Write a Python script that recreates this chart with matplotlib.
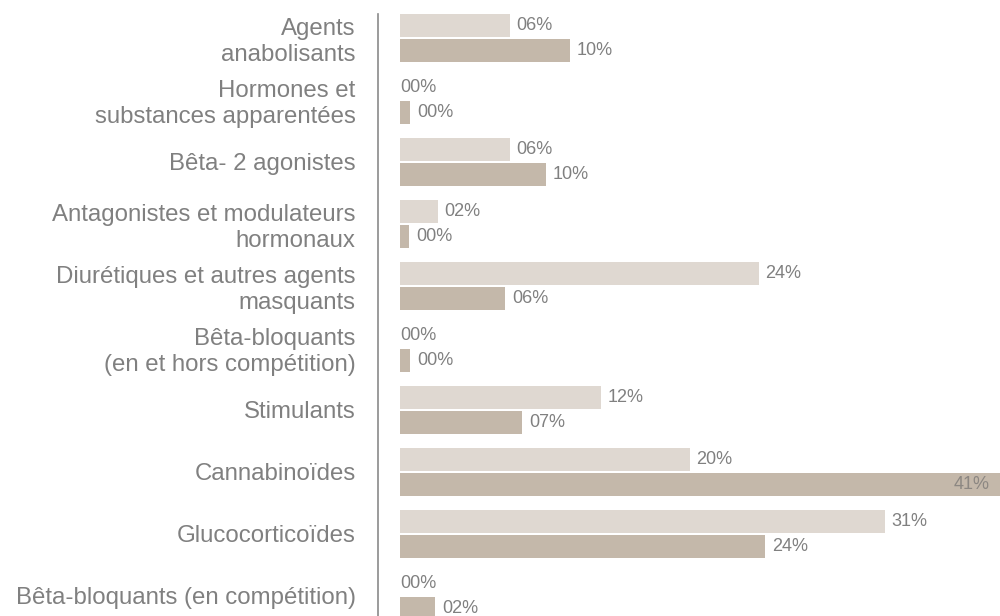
import numpy as np
import matplotlib
matplotlib.use("Agg")
import matplotlib.pyplot as plt

plt.rcParams["font.family"] = ["Liberation Sans", "DejaVu Sans"]

categories = [
    "Agents\nanabolisants",
    "Hormones et\nsubstances apparentées",
    "Bêta- 2 agonistes",
    "Antagonistes et modulateurs\nhormonaux",
    "Diurétiques et autres agents\nmasquants",
    "Bêta-bloquants\n(en et hors compétition)",
    "Stimulants",
    "Cannabinoïdes",
    "Glucocorticoïdes",
    "Bêta-bloquants (en compétition)",
]
# bar lengths (percent)
vals_light = [7.3, 0.0, 7.3, 2.5, 23.9, 0.0, 13.4, 19.3, 32.3, 0.0]
vals_dark = [11.3, 0.65, 9.7, 0.6, 7.0, 0.65, 8.1, 41.0, 24.3, 2.3]
# printed labels, as shown
labels_light = ["06%", "00%", "06%", "02%", "24%", "00%", "12%", "20%", "31%", "00%"]
labels_dark = ["10%", "00%", "10%", "00%", "06%", "00%", "07%", "41%", "24%", "02%"]

LIGHT = "#dfd8d1"
DARK = "#c4b8aa"
TXT = "#808080"

fig = plt.figure(figsize=(10, 6.16), dpi=100)
ax = fig.add_axes([0.40, 0.0, 0.60, 1 - 14 / 616])

y = np.arange(len(categories))
h = 23 / 62
off = 12.5 / 62
ax.barh(y - off, vals_light, height=h, color=LIGHT, linewidth=0)
ax.barh(y + off, vals_dark, height=h, color=DARK, linewidth=0)

xmax = 40
ax.set_xlim(0, xmax)
ax.set_ylim(-0.387 + 602 / 62, -0.387)

for yi, v, lab in zip(y - off, vals_light, labels_light):
    ax.text(v + (0.47 if v > 0 else 0), yi, lab, va="center", ha="left",
            fontsize=13, color=TXT)
for yi, v, lab in zip(y + off, vals_dark, labels_dark):
    if v > xmax:
        ax.text(xmax - 0.7, yi, lab, va="center", ha="right",
                fontsize=13, color="#8c8782")
    else:
        ax.text(v + 0.5, yi, lab, va="center", ha="left",
                fontsize=13, color=TXT)

ax.set_yticks(y, categories)
ax.tick_params(axis="y", length=0, pad=16, labelsize=17.3, labelcolor=TXT)
for t in ax.get_yticklabels():
    t.set_linespacing(0.88)
ax.set_xticks([])
for s in ("top", "right", "bottom"):
    ax.spines[s].set_visible(False)
ax.spines["left"].set_position(("outward", 16))
ax.spines["left"].set_color("#8a8a8a")
ax.spines["left"].set_linewidth(1.2)

fig.savefig("out.png", dpi=100)
